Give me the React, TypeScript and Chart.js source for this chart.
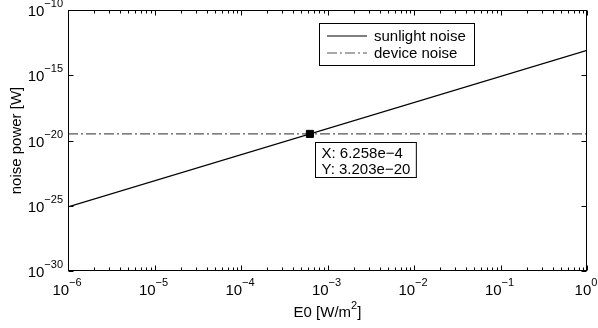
import { useEffect, useRef } from "react";
import { Chart, registerables } from "chart.js";

Chart.register(...registerables);

// Irradiance range (W/m^2) and the two noise curves (W)
const e0Values = [1e-6, 1];
const sunlightNoise = [8.179e-26, 8.179e-14];
const deviceNoise = [3.203e-20, 3.203e-20];

// Crossing point highlighted with a data tip
const crossE0 = 6.258e-4;
const crossPower = 3.203e-20;

// Axis decades that carry labels
const xTickExponents = [-6, -5, -4, -3, -2, -1, 0];
const yTickExponents = [-30, -25, -20, -15, -10];

const legendLabels = ["sunlight noise", "device noise"];

const FONT = '"Liberation Sans", Arial, Helvetica, sans-serif';
const DASH_DOT = [10, 3, 2, 3];
const DEVICE_COLOR = "#555555";

function drawPow10(
  ctx: CanvasRenderingContext2D,
  exp: number,
  x: number,
  baseline: number,
  align: "right" | "center"
) {
  const base = "10";
  const sup = exp < 0 ? "\u2212" + Math.abs(exp) : String(exp);
  ctx.font = `15px ${FONT}`;
  const wb = ctx.measureText(base).width;
  ctx.font = `11px ${FONT}`;
  const ws = ctx.measureText(sup).width;
  const total = wb + ws;
  const startX = align === "right" ? x - total : x - total / 2;
  ctx.textAlign = "left";
  ctx.textBaseline = "alphabetic";
  ctx.font = `15px ${FONT}`;
  ctx.fillText(base, startX, baseline);
  ctx.font = `11px ${FONT}`;
  ctx.fillText(sup, startX + wb, baseline - 9);
}

const framePlugin = {
  id: "frame",
  afterDatasetsDraw(chart: any) {
    const { ctx, chartArea: a, scales } = chart;
    const xs = scales.x;
    const ys = scales.y;
    const L = a.left + 0.5;
    const R = a.right - 0.5;
    const T = a.top + 0.5;
    const B = a.bottom - 0.5;

    ctx.save();
    ctx.fillStyle = "#000";
    ctx.strokeStyle = "#000";
    ctx.lineWidth = 1;
    ctx.setLineDash([]);

    // Axes box
    ctx.strokeRect(L, T, R - L, B - T);

    // X ticks (major + minor), inward on bottom and top
    ctx.beginPath();
    for (let i = 0; i < xTickExponents.length; i++) {
      const e = xTickExponents[i];
      for (let m = 1; m <= 9; m++) {
        if (m > 1 && i === xTickExponents.length - 1) break;
        const v = m * Math.pow(10, e);
        const px = Math.round(xs.getPixelForValue(v)) + 0.5;
        const len = m === 1 ? 5 : 3;
        ctx.moveTo(px, B);
        ctx.lineTo(px, B - len);
        ctx.moveTo(px, T);
        ctx.lineTo(px, T + len);
      }
    }
    // Y ticks, inward on left and right
    for (const e of yTickExponents) {
      const py = Math.round(ys.getPixelForValue(Math.pow(10, e))) + 0.5;
      ctx.moveTo(L, py);
      ctx.lineTo(L + 5, py);
      ctx.moveTo(R, py);
      ctx.lineTo(R - 5, py);
    }
    ctx.stroke();

    // Tick labels
    for (const e of xTickExponents) {
      const px = xs.getPixelForValue(Math.pow(10, e));
      drawPow10(ctx, e, px - 1, a.bottom + 24, "center");
    }
    for (const e of yTickExponents) {
      const py = ys.getPixelForValue(Math.pow(10, e));
      drawPow10(ctx, e, a.left - 5, py + 6, "right");
    }

    // Axis titles
    ctx.font = `15px ${FONT}`;
    ctx.textBaseline = "alphabetic";
    const t1 = "E0 [W/m";
    const t2 = "2";
    const t3 = "]";
    const w1 = ctx.measureText(t1).width;
    const w3 = ctx.measureText(t3).width;
    ctx.font = `11px ${FONT}`;
    const w2 = ctx.measureText(t2).width;
    const cx = (a.left + a.right) / 2;
    const tx = cx - (w1 + w2 + w3) / 2;
    ctx.textAlign = "left";
    ctx.font = `15px ${FONT}`;
    ctx.fillText(t1, tx, 317);
    ctx.font = `11px ${FONT}`;
    ctx.fillText(t2, tx + w1, 309);
    ctx.font = `15px ${FONT}`;
    ctx.fillText(t3, tx + w1 + w2, 317);

    ctx.save();
    ctx.translate(21, (a.top + a.bottom) / 2);
    ctx.rotate(-Math.PI / 2);
    ctx.textAlign = "center";
    ctx.fillText("noise power [W]", 0, 0);
    ctx.restore();

    // Legend
    const lgX = 319.5;
    const lgY = 23.5;
    const lgW = 155;
    const lgH = 42;
    ctx.fillStyle = "#fff";
    ctx.fillRect(lgX, lgY, lgW, lgH);
    ctx.strokeStyle = "#000";
    ctx.strokeRect(lgX, lgY, lgW, lgH);
    const rows = [36, 53];
    ctx.lineWidth = 1.2;
    ctx.beginPath();
    ctx.moveTo(327, rows[0]);
    ctx.lineTo(367, rows[0]);
    ctx.stroke();
    ctx.strokeStyle = DEVICE_COLOR;
    ctx.setLineDash(DASH_DOT);
    ctx.beginPath();
    ctx.moveTo(327, rows[1]);
    ctx.lineTo(367, rows[1]);
    ctx.stroke();
    ctx.setLineDash([]);
    ctx.fillStyle = "#000";
    ctx.font = `15px ${FONT}`;
    ctx.textAlign = "left";
    ctx.fillText(legendLabels[0], 374, rows[0] + 5);
    ctx.fillText(legendLabels[1], 374, rows[1] + 5);

    // Data tip box
    const fmt = (v: number) => v.toExponential(3).replace("e+", "e").replace("e-", "e\u2212");
    const px = xs.getPixelForValue(crossE0);
    const py = ys.getPixelForValue(crossPower);
    const bx = Math.round(px) + 5.5;
    const by = Math.round(py) + 8.5;
    ctx.font = `15px ${FONT}`;
    const lineX = "X: " + fmt(crossE0);
    const lineY = "Y: " + fmt(crossPower);
    const bw = Math.max(ctx.measureText(lineX).width, ctx.measureText(lineY).width) + 12;
    ctx.fillStyle = "#fff";
    ctx.fillRect(bx, by, bw, 35);
    ctx.strokeStyle = "#000";
    ctx.lineWidth = 1;
    ctx.strokeRect(bx, by, bw, 35);
    ctx.fillStyle = "#000";
    ctx.fillText(lineX, bx + 6, by + 15);
    ctx.fillText(lineY, bx + 6, by + 31);

    ctx.restore();
  },
};

export default function App() {
  const canvasRef = useRef<HTMLCanvasElement | null>(null);

  useEffect(() => {
    if (!canvasRef.current) return;
    const chart = new Chart(canvasRef.current, {
      type: "line",
      data: {
        datasets: [
          {
            label: "tip",
            data: [{ x: crossE0, y: crossPower }],
            showLine: false,
            pointStyle: "rect",
            pointRadius: 5,
            pointBackgroundColor: "#000",
            pointBorderColor: "#000",
            pointBorderWidth: 1,
          },
          {
            label: legendLabels[0],
            data: e0Values.map((x, i) => ({ x, y: sunlightNoise[i] })),
            borderColor: "#000",
            borderWidth: 1.3,
            pointRadius: 0,
            fill: false,
          },
          {
            label: legendLabels[1],
            data: e0Values.map((x, i) => ({ x, y: deviceNoise[i] })),
            borderColor: DEVICE_COLOR,
            borderWidth: 1.3,
            borderDash: DASH_DOT,
            pointRadius: 0,
            fill: false,
          },
        ],
      },
      options: {
        responsive: false,
        animation: false,
        devicePixelRatio: 1,
        layout: { padding: { left: 0, top: 10, right: 11, bottom: 0 } },
        plugins: {
          legend: { display: false },
          tooltip: { enabled: false },
        },
        scales: {
          x: {
            type: "logarithmic",
            min: 1e-6,
            max: 1,
            grid: { display: false },
            border: { display: false },
            ticks: { display: false },
            afterFit: (s: any) => {
              s.height = 57;
            },
          },
          y: {
            type: "logarithmic",
            min: 1e-30,
            max: 1e-10,
            grid: { display: false },
            border: { display: false },
            ticks: { display: false },
            afterFit: (s: any) => {
              s.width = 68;
            },
          },
        },
      },
      plugins: [framePlugin],
    });
    return () => chart.destroy();
  }, []);

  return (
    <div style={{ position: "absolute", left: 0, top: 0, width: 598, height: 328, background: "#fff" }}>
      <canvas ref={canvasRef} width={598} height={328} />
    </div>
  );
}
